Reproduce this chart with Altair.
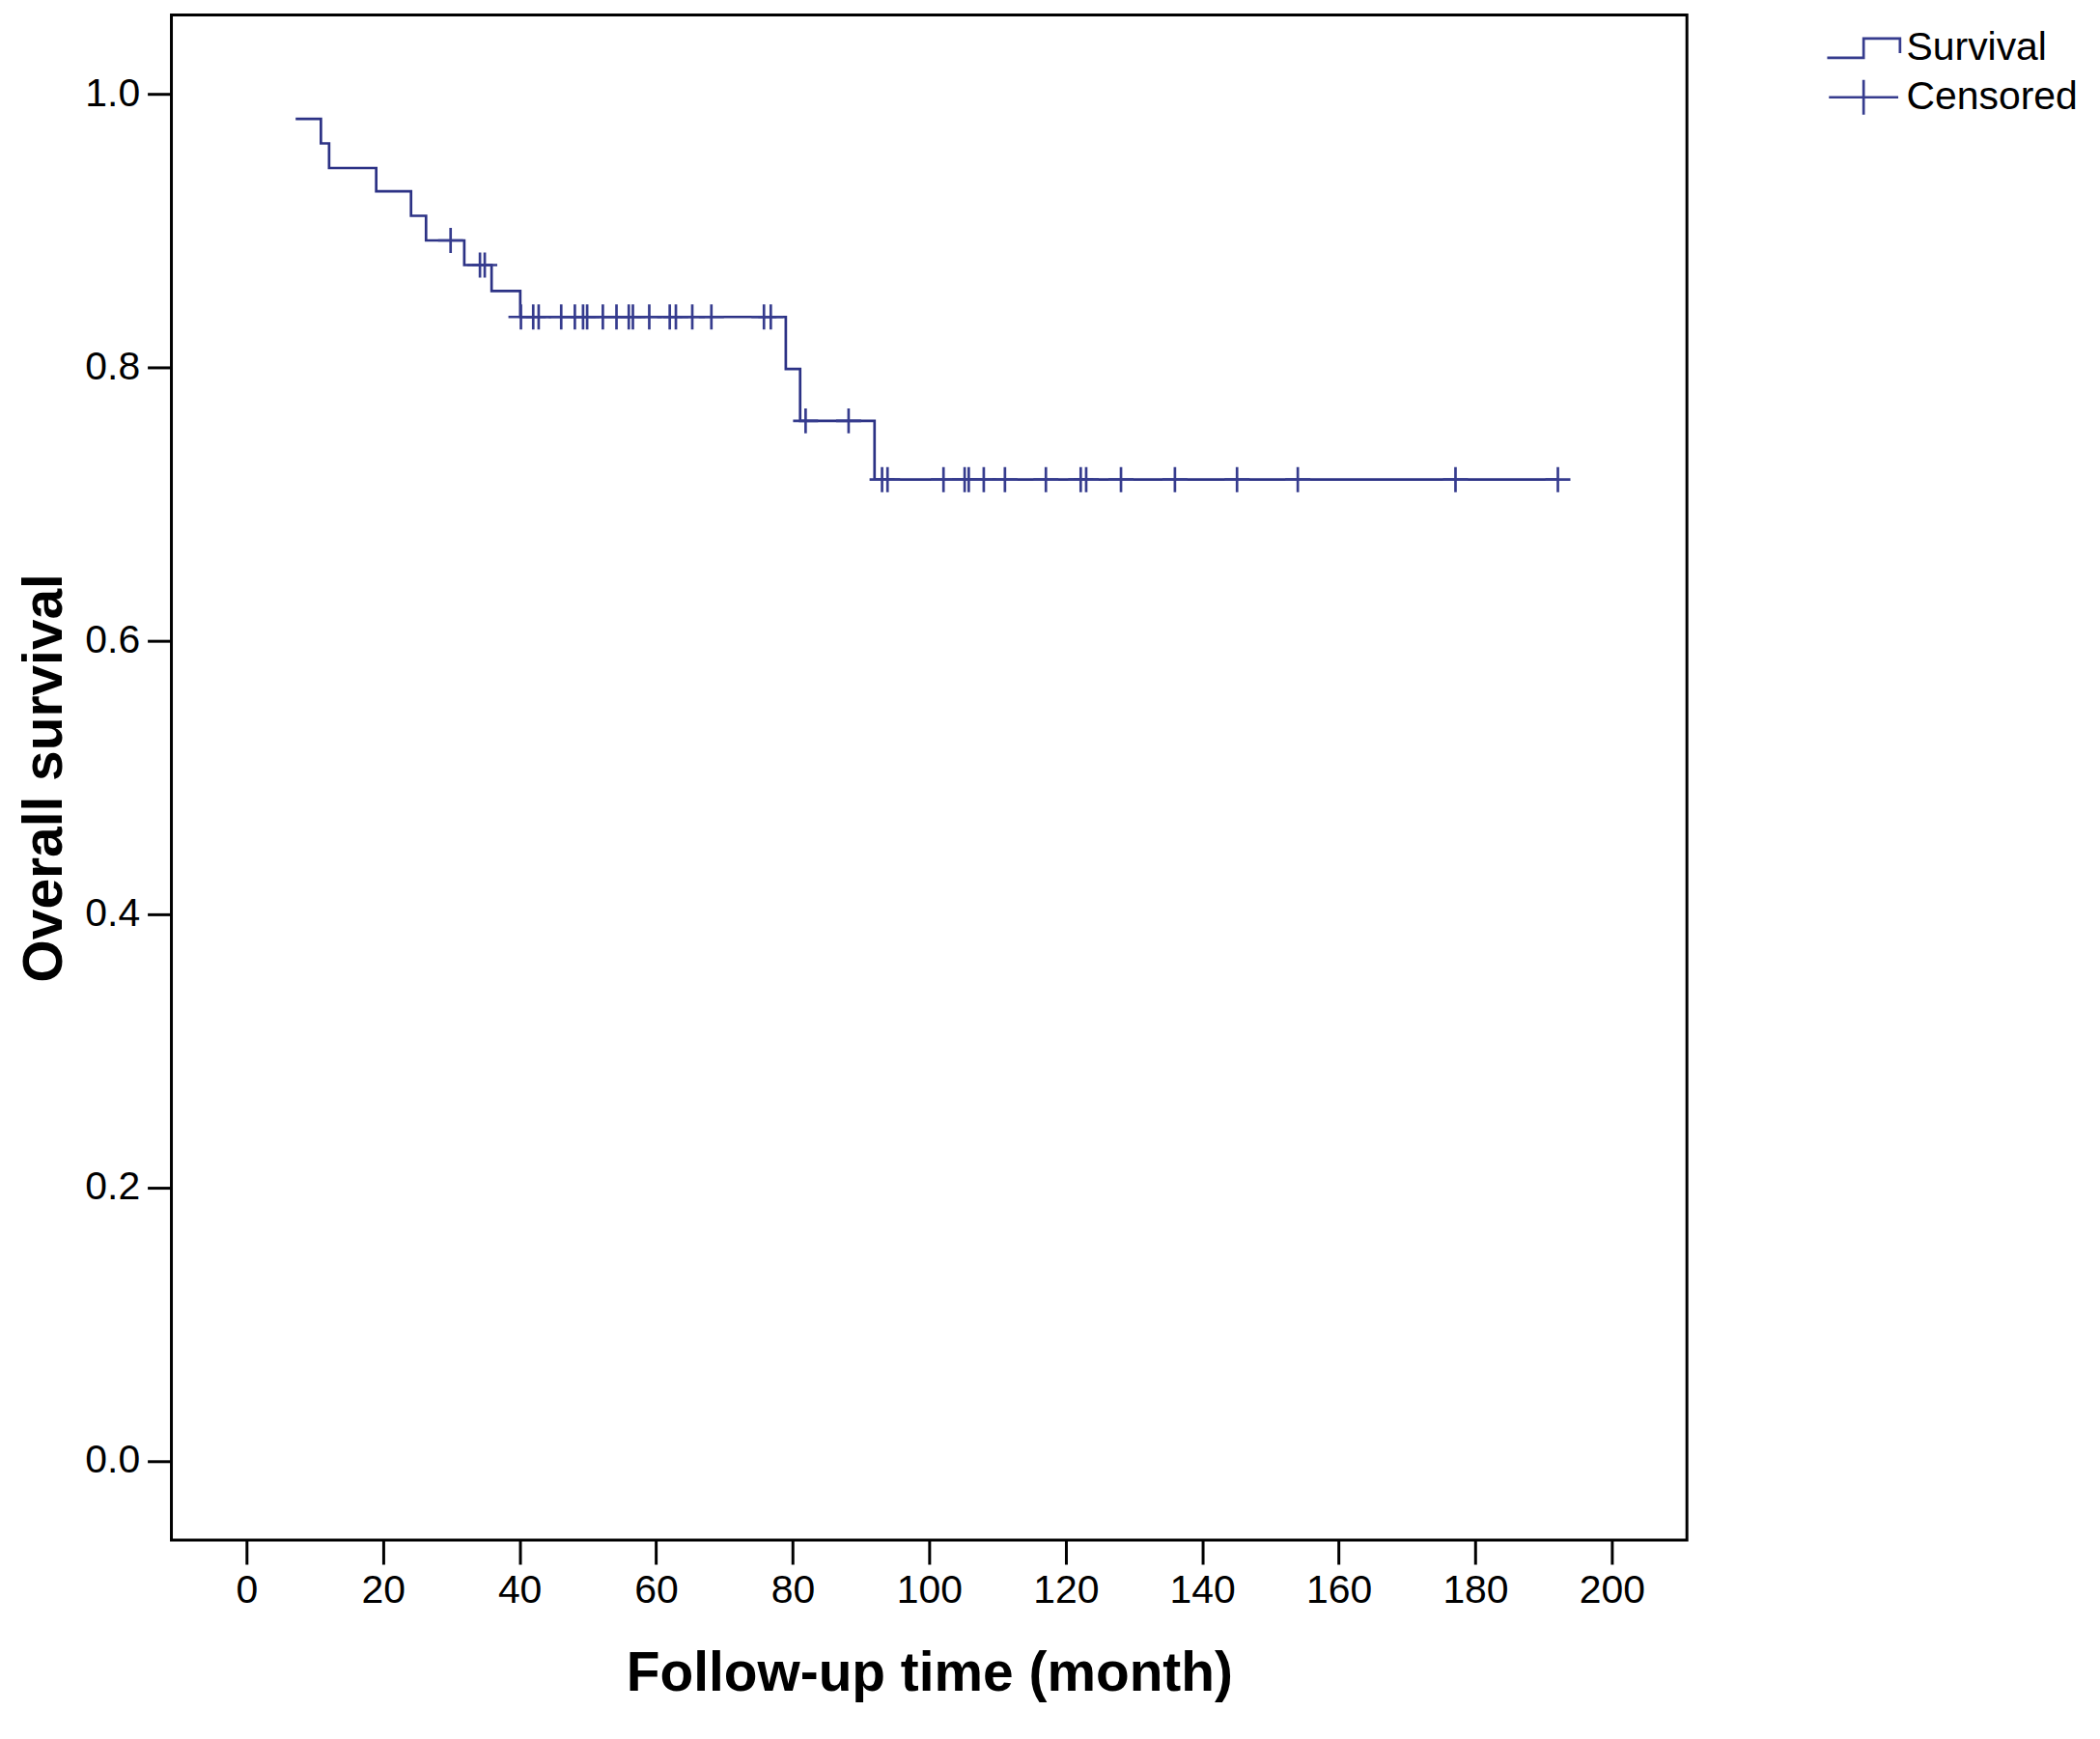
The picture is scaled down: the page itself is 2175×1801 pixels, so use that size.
import altair as alt
import pandas as pd

# Kaplan-Meier step curve (time in months, survival level after the step)
step_time = [7.2, 10.9, 12.1, 19.0, 24.1, 26.3, 31.9, 35.9, 40.1, 79.0, 81.1, 92.0, 192.1]
step_surv = [0.982, 0.964, 0.946, 0.929, 0.911, 0.893, 0.875, 0.856, 0.837, 0.799, 0.761, 0.718, 0.718]

# Censored observations
cens_time = [29.9, 34.2, 34.9,
             40.2, 42.0, 42.8, 46.1, 48.1, 49.3, 49.9, 52.2, 54.2, 56.0, 56.6, 59.0,
             62.0, 62.9, 65.3, 68.1, 75.8, 76.8,
             81.9, 88.2,
             93.1, 93.9, 102.1, 105.2, 105.8, 108.0, 111.1, 117.1, 122.2, 123.0,
             128.1, 136.0, 145.1, 154.0, 177.1, 192.1]
cens_surv = [0.893, 0.875, 0.875,
             0.837, 0.837, 0.837, 0.837, 0.837, 0.837, 0.837, 0.837, 0.837, 0.837, 0.837, 0.837,
             0.837, 0.837, 0.837, 0.837, 0.837, 0.837,
             0.761, 0.761,
             0.718, 0.718, 0.718, 0.718, 0.718, 0.718, 0.718, 0.718, 0.718, 0.718,
             0.718, 0.718, 0.718, 0.718, 0.718, 0.718]

x_ticks = [0, 20, 40, 60, 80, 100, 120, 140, 160, 180, 200]
y_ticks = [0.0, 0.2, 0.4, 0.6, 0.8, 1.0]
legend_labels = ["Survival", "Censored"]

LINE = "#2c3285"
MARK = "#363c8e"
FONT = "Liberation Sans"

curve_df = pd.DataFrame({"time": step_time, "surv": step_surv})
cens_df = pd.DataFrame({"time": cens_time, "surv": cens_surv,
                        "series": ["mark"] * len(cens_time)})

x_scale = alt.Scale(domain=[-11, 211], nice=False, zero=False)
y_scale = alt.Scale(domain=[-0.058, 1.058], nice=False, zero=False)

x_enc = alt.X("time:Q", scale=x_scale,
              axis=alt.Axis(values=x_ticks, format="d", title="Follow-up time (month)"))
y_enc = alt.Y("surv:Q", scale=y_scale,
              axis=alt.Axis(values=y_ticks, format=".1f", title="Overall survival"))

surv_path = "M-2.1,0.56H0V-0.56H2.1V0.28"
cens_leg_path = "M-2,0H2M0,-1V1"
cross_path = "M-1,0H1M0,-1V1"

line = alt.Chart(curve_df).mark_line(
    interpolate="step-after", color=LINE, strokeWidth=2.7
).encode(x=x_enc, y=y_enc)

marks = alt.Chart(cens_df).mark_point(
    filled=False, color=MARK, size=676, strokeWidth=2.7, opacity=1
).encode(
    x=x_enc, y=y_enc,
    shape=alt.Shape(
        "series:N",
        scale=alt.Scale(domain=["Survival", "Censored", "mark"],
                        range=[surv_path, cens_leg_path, cross_path]),
        legend=alt.Legend(values=legend_labels, title=None, orient="none",
                          legendX=1737, legendY=14, symbolSize=1296,
                          symbolStrokeWidth=2.7, labelOffset=24, rowPadding=7,
                          labelFontSize=41, labelFont=FONT, labelColor="black",
                          labelLimit=0, padding=0)
    )
)

chart = alt.layer(line, marks).properties(
    width=1574, height=1584,
    autosize=alt.AutoSizeParams(type="none"),
    padding={"left": 170, "top": 5, "right": 421, "bottom": 196},
    background="white"
).configure_view(
    stroke="black", strokeWidth=3
).configure_axis(
    domain=False, grid=False, tickColor="black", tickWidth=3, tickSize=25,
    labelFont=FONT, labelFontSize=41, labelColor="black", labelPadding=8,
    labelFlush=False, labelOverlap=False,
    titleFont=FONT, titleFontSize=57, titleFontWeight="bold", titleColor="black"
).configure_axisX(
    titlePadding=38
).configure_axisY(
    titlePadding=12
)

chart.save("out.html", embed_options={"renderer": "svg", "actions": False})
